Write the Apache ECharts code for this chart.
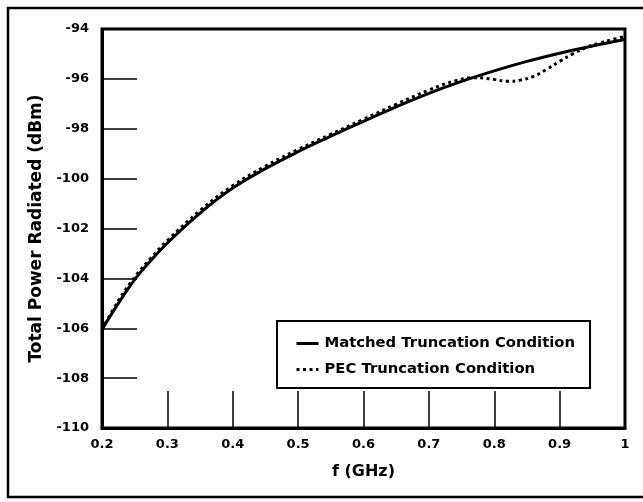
<!DOCTYPE html>
<html>
<head>
<meta charset="utf-8">
<script src="https://cdn.jsdelivr.net/npm/echarts@6/dist/echarts.min.js"></script>
<style>html,body{margin:0;padding:0;background:#fff;}#c{width:643px;height:502px;}</style>
</head>
<body>
<div id="c"></div>
<script>
var xTicks = [0.2, 0.3, 0.4, 0.5, 0.6, 0.7, 0.8, 0.9, 1];
var yTicks = [-110, -108, -106, -104, -102, -100, -98, -96, -94];

var freqMatched = [0.2, 0.225, 0.25, 0.275, 0.3, 0.35, 0.4, 0.45, 0.5, 0.55, 0.6, 0.65, 0.7, 0.75, 0.8, 0.85, 0.9, 0.95, 1.0];
var powerMatched = [-106.05, -105.0, -104.05, -103.28, -102.58, -101.38, -100.38, -99.6, -98.92, -98.3, -97.7, -97.12, -96.58, -96.1, -95.68, -95.3, -94.97, -94.68, -94.42];

var freqPEC = [0.2, 0.225, 0.25, 0.275, 0.3, 0.35, 0.4, 0.45, 0.5, 0.55, 0.6, 0.65, 0.7, 0.74, 0.77, 0.8, 0.82, 0.84, 0.86, 0.88, 0.9, 0.92, 0.94, 0.96, 0.98, 1.0];
var powerPEC = [-106.05, -104.9, -103.95, -103.18, -102.48, -101.28, -100.28, -99.5, -98.83, -98.22, -97.62, -97.02, -96.45, -96.08, -95.95, -96.02, -96.1, -96.05, -95.9, -95.62, -95.3, -95.0, -94.75, -94.57, -94.43, -94.3];

function pairs(xs, ys) { return xs.map(function (x, i) { return [x, ys[i]]; }); }

var font = 'DejaVu Sans';
var chart = echarts.init(document.getElementById('c'), null, {renderer: 'canvas'});
chart.setOption({
  animation: false,
  backgroundColor: '#fff',
  graphic: [{
    type: 'polyline', z: 0,
    shape: {points: [[660, 8], [8, 8], [8, 497], [660, 497]]},
    style: {fill: 'none', stroke: '#000', lineWidth: 2.5}
  }],
  grid: {left: 102, right: 18, top: 29, bottom: 74, show: true, borderColor: '#000', borderWidth: 3, backgroundColor: 'transparent'},
  legend: {
    left: 277, top: 321, orient: 'vertical',
    padding: [15, 15, 11, 18],
    borderColor: '#000', borderWidth: 2, backgroundColor: '#fff',
    itemWidth: 22, itemHeight: 18, itemGap: 11,
    itemStyle: {opacity: 0},
    lineStyle: {width: 3},
    textStyle: {fontFamily: font, fontWeight: 'bold', fontSize: 14.8, color: '#000', padding: [0, 0, 0, 1]},
    data: [{name: 'Matched Truncation Condition'}, {name: 'PEC Truncation Condition'}]
  },
  xAxis: {
    type: 'value', min: 0.2, max: 1, interval: 0.1,
    name: 'f (GHz)', nameLocation: 'middle', nameGap: 36,
    nameTextStyle: {fontFamily: font, fontWeight: 'bold', fontSize: 16, color: '#000'},
    axisLine: {show: true, lineStyle: {color: '#000', width: 3}},
    axisTick: {show: true, inside: true, length: 37, lineStyle: {color: '#000', width: 1.5}},
    axisLabel: {fontFamily: font, fontWeight: 'bold', fontSize: 13, color: '#000', margin: 10,
      formatter: function (v) { var r = Math.round(v * 10) / 10; return xTicks.indexOf(r) >= 0 ? String(r) : ''; }},
    splitLine: {show: false}
  },
  yAxis: {
    type: 'value', min: -110, max: -94, interval: 2,
    name: 'Total Power Radiated (dBm)', nameLocation: 'middle', nameGap: 50,
    nameTextStyle: {fontFamily: font, fontWeight: 'bold', fontSize: 17, color: '#000'},
    axisLine: {show: true, lineStyle: {color: '#000', width: 3}},
    axisTick: {show: true, inside: true, length: 35, lineStyle: {color: '#000', width: 1.5}},
    axisLabel: {fontFamily: font, fontWeight: 'bold', fontSize: 13, color: '#000', margin: 13,
      formatter: function (v) { return yTicks.indexOf(v) >= 0 ? String(v) : ''; }},
    splitLine: {show: false}
  },
  series: [
    {name: 'Matched Truncation Condition', type: 'line', smooth: 0.4, symbol: 'none',
      data: pairs(freqMatched, powerMatched),
      lineStyle: {color: '#000', width: 3, type: 'solid'}, itemStyle: {color: '#000'}, z: 3},
    {name: 'PEC Truncation Condition', type: 'line', smooth: 0.4, symbol: 'none',
      data: pairs(freqPEC, powerPEC),
      lineStyle: {color: '#000', width: 3, type: [3, 3.5]}, itemStyle: {color: '#000'}, z: 4}
  ]
});
</script>
</body>
</html>
